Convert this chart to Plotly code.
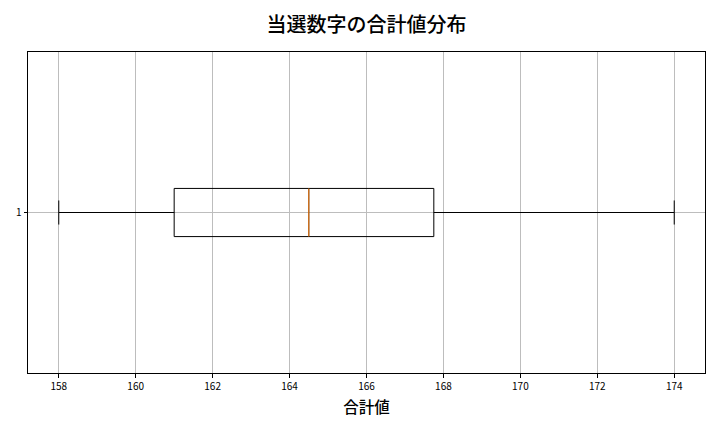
import plotly.graph_objects as go

# box statistics of the sum of winning numbers
positions = [1]
lower_fence = [158]
q1 = [161]
median = [164.5]
q3 = [167.75]
upper_fence = [174]
x_ticks = [158, 160, 162, 164, 166, 168, 170, 172, 174]

box_width = 0.15
font = "Noto Sans CJK JP"

fig = go.Figure()

fig.add_trace(go.Box(
    y=positions,
    q1=q1,
    median=median,
    q3=q3,
    lowerfence=lower_fence,
    upperfence=upper_fence,
    orientation="h",
    width=box_width,
    whiskerwidth=0.5,
    fillcolor="rgba(0,0,0,0)",
    line=dict(color="black", width=1),
    boxpoints=False,
    hoverinfo="skip",
    showlegend=False,
))

# orange median line on top, like matplotlib
fig.add_trace(go.Scatter(
    x=[median[0], median[0]],
    y=[positions[0] - box_width / 2, positions[0] + box_width / 2],
    mode="lines",
    line=dict(color="#ff7f0e", width=1),
    hoverinfo="skip",
    showlegend=False,
))

fig.update_layout(
    width=720,
    height=432,
    margin=dict(l=28, r=15, t=52, b=59),
    paper_bgcolor="white",
    plot_bgcolor="white",
    font=dict(family=font, color="black", size=10),
    title=dict(
        text="当選数字の合計値分布",
        xref="paper", x=0.5, xanchor="center",
        y=0.942, yanchor="middle",
        font=dict(family=font, size=20, color="black", weight=500),
    ),
)

fig.update_xaxes(
    range=[157.2, 174.8],
    tickvals=x_ticks,
    ticks="outside", ticklen=3.5, tickcolor="black",
    showgrid=True, gridcolor="#bdbdbd", gridwidth=0.8,
    showline=True, linecolor="black", linewidth=1, mirror=True,
    zeroline=False,
    title=dict(text="合計値", font=dict(family=font, size=15.5, weight=500), standoff=10),
    tickfont=dict(size=10),
)
fig.update_yaxes(
    range=[0.5, 1.5],
    tickvals=positions,
    ticks="outside", ticklen=3.5, tickcolor="black",
    showgrid=True, gridcolor="#bdbdbd", gridwidth=0.8,
    showline=True, linecolor="black", linewidth=1, mirror=True,
    zeroline=False,
    tickfont=dict(size=10),
)

# drop the default page margin so the figure sits at the window corner
fig.write_html(
    "out.html",
    config={"displayModeBar": False},
    post_script="document.body.style.margin='0';",
)
